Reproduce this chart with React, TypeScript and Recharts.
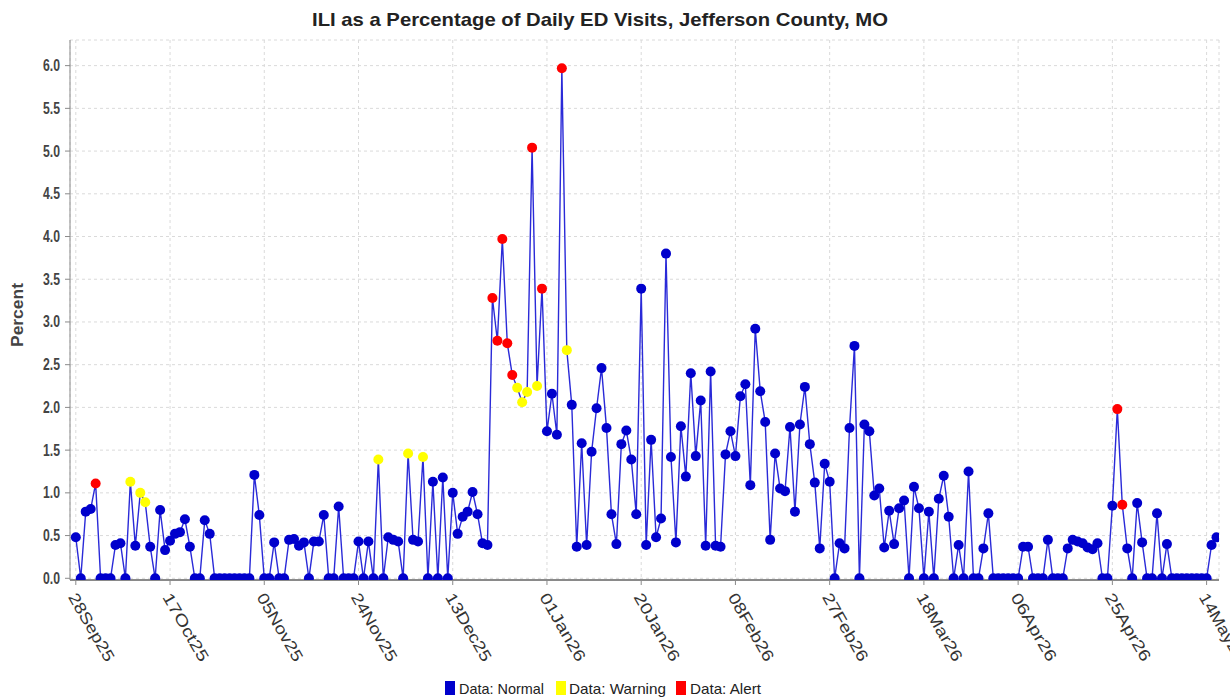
import { LineChart, Line, XAxis, YAxis, CartesianGrid } from "recharts";

// daily ILI % of ED visits, starting 28Sep25 (index 0)
const values: number[] = [
  0.48, 0, 0.78, 0.81, 1.11, 0, 0, 0, 0.39, 0.41,
  0, 1.13, 0.38, 1.0, 0.89, 0.37, 0, 0.8, 0.33, 0.44,
  0.52, 0.54, 0.69, 0.37, 0, 0, 0.68, 0.52, 0, 0,
  0, 0, 0, 0, 0, 0, 1.21, 0.74, 0, 0,
  0.42, 0, 0, 0.45, 0.46, 0.38, 0.42, 0, 0.43, 0.43,
  0.74, 0, 0, 0.84, 0, 0, 0, 0.43, 0, 0.43,
  0, 1.39, 0, 0.48, 0.45, 0.43, 0, 1.46, 0.45, 0.43,
  1.42, 0, 1.13, 0, 1.18, 0, 1.0, 0.52, 0.72, 0.78,
  1.01, 0.75, 0.41, 0.39, 3.28, 2.78, 3.97, 2.75, 2.38, 2.23,
  2.06, 2.18, 5.04, 2.25, 3.39, 1.72, 2.16, 1.68, 5.97, 2.67,
  2.03, 0.37, 1.58, 0.39, 1.48, 1.99, 2.46, 1.76, 0.75, 0.4,
  1.57, 1.73, 1.39, 0.75, 3.39, 0.39, 1.62, 0.48, 0.7, 3.8,
  1.42, 0.42, 1.78, 1.19, 2.4, 1.43, 2.08, 0.38, 2.42, 0.38,
  0.37, 1.45, 1.72, 1.43, 2.13, 2.27, 1.09, 2.92, 2.19, 1.83,
  0.45, 1.46, 1.05, 1.02, 1.77, 0.78, 1.8, 2.24, 1.57, 1.12,
  0.35, 1.34, 1.13, 0, 0.41, 0.35, 1.76, 2.72, 0, 1.8,
  1.72, 0.97, 1.05, 0.36, 0.79, 0.4, 0.82, 0.91, 0, 1.07,
  0.82, 0, 0.78, 0, 0.93, 1.2, 0.72, 0, 0.39, 0,
  1.25, 0, 0, 0.35, 0.76, 0, 0, 0, 0, 0,
  0, 0.37, 0.37, 0, 0, 0, 0.45, 0, 0, 0,
  0.35, 0.45, 0.43, 0.41, 0.36, 0.34, 0.41, 0, 0, 0.85,
  1.98, 0.86, 0.35, 0, 0.88, 0.42, 0, 0, 0.76, 0,
  0.4, 0, 0, 0, 0, 0, 0, 0, 0, 0.39,
  0.48,
];

const warningDays = [11, 13, 14, 61, 67, 70, 89, 90, 91, 93, 99];
const alertDays = [4, 84, 85, 86, 87, 88, 92, 94, 98, 210, 211];

const tickDays = [0, 19, 38, 57, 76, 95, 114, 133, 152, 171, 190, 209, 228];
const tickLabels = ["28Sep25", "17Oct25", "05Nov25", "24Nov25", "13Dec25", "01Jan26", "20Jan26", "08Feb26", "27Feb26", "18Mar26", "06Apr26", "25Apr26", "14May26"];
const yTicks = [0, 0.5, 1, 1.5, 2, 2.5, 3, 3.5, 4, 4.5, 5, 5.5, 6];

const levelColors: Record<string, string> = { normal: "#0000cc", warning: "#ffff00", alert: "#ff0000" };

const data = values.map((v, i) => ({
  day: i,
  pct: v,
  level: alertDays.includes(i) ? "alert" : warningDays.includes(i) ? "warning" : "normal",
}));

const XTick = ({ x, y, payload }: any) => {
  const idx = tickDays.indexOf(payload.value);
  const ax = x - 8;
  const ay = y + 10;
  return (
    <text x={ax} y={ay} transform={`rotate(60, ${ax}, ${ay})`} fontSize={16} fill="#333"
      fontFamily="Liberation Sans, Arial, sans-serif" textLength={76} lengthAdjust="spacingAndGlyphs">
      {tickLabels[idx]}
    </text>
  );
};

const YTick = ({ x, y, payload }: any) => (
  <text x={x} y={y} textAnchor="end" dominantBaseline="central" fontSize={16} fontWeight="bold" fill="#444"
    fontFamily="Liberation Sans, Arial, sans-serif" textLength={17} lengthAdjust="spacingAndGlyphs">
    {payload.value.toFixed(1)}
  </text>
);

const Dot = ({ cx, cy, payload, index }: any) => (
  <circle key={index} cx={cx} cy={cy} r={5} fill={levelColors[payload.level]} />
);

export default function App() {
  const font = "Liberation Sans, Arial, sans-serif";
  return (
    <div style={{ position: "absolute", left: 0, top: 0, width: 1230, height: 700, background: "#fff" }}>
      <LineChart width={1230} height={700} data={data} margin={{ top: 40, right: 11, bottom: 0, left: 0 }}>
        <CartesianGrid stroke="#dadada" strokeDasharray="3 3" />
        <XAxis dataKey="day" type="number" domain={[-1.17, 230.5]} ticks={tickDays} allowDataOverflow
          height={120} tickSize={5} tickMargin={2} tick={<XTick />} interval={0}
          axisLine={{ stroke: "#8a8a8a", strokeWidth: 2 }} tickLine={{ stroke: "#8a8a8a" }} />
        <XAxis xAxisId="top" orientation="top" dataKey="day" type="number" domain={[-1.17, 230.5]}
          height={0} tick={false} tickLine={false} axisLine={{ stroke: "#8a8a8a" }} />
        <YAxis type="number" domain={[-0.02, 6.3]} ticks={yTicks} allowDataOverflow width={70}
          tickSize={5} tickMargin={5} tick={<YTick />} interval={0}
          axisLine={{ stroke: "#8a8a8a" }} tickLine={{ stroke: "#8a8a8a" }} />
        <YAxis yAxisId="right" orientation="right" width={0} domain={[-0.02, 6.3]} tick={false}
          tickLine={false} axisLine={{ stroke: "#8a8a8a" }} />
        <Line type="linear" dataKey="pct" stroke="#2a2ad8" strokeWidth={1.4} dot={<Dot />}
          activeDot={false} isAnimationActive={false} />
      </LineChart>
      <svg width={1230} height={700} style={{ position: "absolute", left: 0, top: 0, pointerEvents: "none" }}>
        <text x={600} y={26} textAnchor="middle" fontSize={19} fontWeight="bold" fill="#222" fontFamily={font}
          textLength={576} lengthAdjust="spacingAndGlyphs">
          ILI as a Percentage of Daily ED Visits, Jefferson County, MO
        </text>
        <text transform="translate(23, 315) rotate(-90)" textAnchor="middle" fontSize={16} fontWeight="bold"
          fill="#444" fontFamily={font} textLength={64} lengthAdjust="spacingAndGlyphs">
          Percent
        </text>
        <rect x={445} y={681} width={10} height={14} fill="#0000cc" />
        <text x={459} y={694} fontSize={15} fill="#222" fontFamily={font} textLength={85} lengthAdjust="spacingAndGlyphs">Data: Normal</text>
        <rect x={556} y={681} width={10} height={14} fill="#ffff00" />
        <text x={569} y={694} fontSize={15} fill="#222" fontFamily={font} textLength={97} lengthAdjust="spacingAndGlyphs">Data: Warning</text>
        <rect x={676} y={681} width={10} height={14} fill="#ff0000" />
        <text x={690} y={694} fontSize={15} fill="#222" fontFamily={font} textLength={71} lengthAdjust="spacingAndGlyphs">Data: Alert</text>
      </svg>
    </div>
  );
}
